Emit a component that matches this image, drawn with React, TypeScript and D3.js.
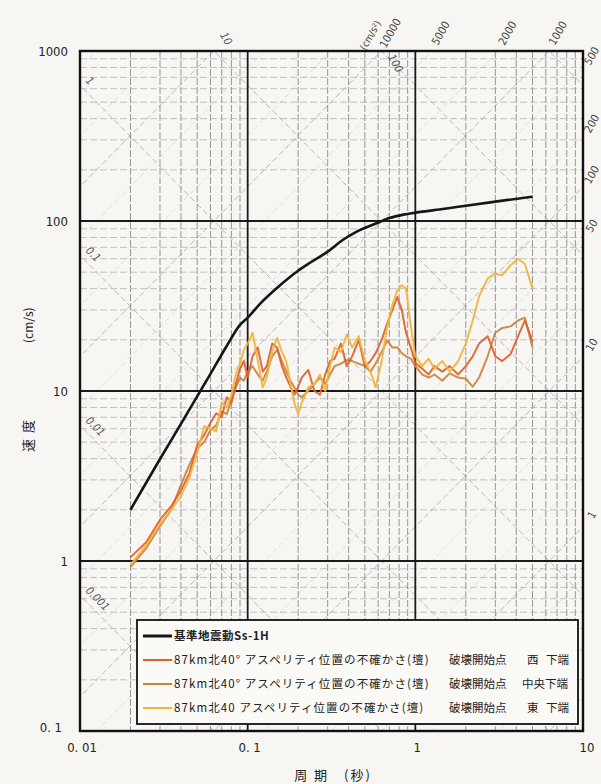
import React from "react";
import * as d3 from "d3";

// ---- data ----
const periods = [0.02, 0.025, 0.03, 0.035, 0.04, 0.045, 0.05, 0.055, 0.06, 0.065, 0.07, 0.075, 0.08, 0.085, 0.09, 0.095, 0.1, 0.107, 0.115, 0.123, 0.13, 0.14, 0.15, 0.16, 0.17, 0.18, 0.19, 0.2, 0.21, 0.23, 0.25, 0.27, 0.29, 0.31, 0.33, 0.36, 0.39, 0.42, 0.46, 0.5, 0.54, 0.58, 0.63, 0.68, 0.73, 0.78, 0.83, 0.88, 0.94, 1.0, 1.1, 1.2, 1.3, 1.45, 1.6, 1.8, 2.0, 2.2, 2.4, 2.7, 3.0, 3.3, 3.7, 4.1, 4.5, 5.0];

const westValues = [1.05, 1.3, 1.75, 2.1, 2.6, 3.3, 4.8, 5.5, 6.5, 7.4, 7.0, 9.2, 8.5, 11, 13.5, 15, 12, 16, 18, 13, 14, 19, 18, 14, 12, 10.6, 9.5, 10.6, 12, 13.3, 10, 9.5, 12.5, 15, 15.5, 19, 14, 16, 20, 13.9, 15, 16.7, 20, 25, 30, 35.7, 30, 22, 18, 14.6, 13.5, 12.5, 14, 13, 14, 12.5, 14, 16, 19, 21, 16, 15, 16.5, 21, 26, 19.6];

const centerValues = [0.92, 1.2, 1.6, 2.0, 2.8, 3.7, 4.6, 5.0, 5.9, 6.3, 7.6, 7.3, 8.8, 10.5, 12, 11.5, 13, 14, 12.5, 11.5, 13, 16, 17.5, 15, 13, 11.5, 10.5, 9.5, 9.2, 10, 11, 12, 11, 12.5, 14, 14.5, 15.2, 15, 14.5, 14, 13, 14.5, 17, 19.9, 18, 18.1, 16.7, 16, 15.5, 14, 12.5, 12, 12.5, 11.5, 12.7, 12, 11.8, 10.6, 12, 16, 22, 23.5, 24, 26, 27, 18];

const eastValues = [0.95, 1.25, 1.65, 2.0, 2.4, 3.1, 4.3, 6.2, 6.0, 5.8, 8.6, 8.0, 9.5, 12.5, 14.5, 17.5, 19, 22, 15, 10.5, 12, 17, 20.5, 17, 15, 11, 8.5, 7.3, 8.5, 10.5, 11, 12.5, 10, 14, 18, 17, 21.5, 18, 21, 15, 13, 10.5, 15, 24, 32, 39, 42, 40, 24, 16, 14, 15.5, 13.5, 15, 13, 15, 19, 26, 36, 46, 49, 48, 55, 60, 56, 40];

const ssPeriods = [0.02, 0.03, 0.04, 0.06, 0.075, 0.09, 0.1, 0.12, 0.15, 0.2, 0.234, 0.3, 0.367, 0.45, 0.586, 0.7, 0.85, 1.0, 1.5, 2.0, 3.0, 5.0];
const ssValues = [2.0, 3.98, 6.4, 12.6, 18.4, 24.5, 27, 33, 40.5, 51, 56.6, 66, 77, 87, 97, 104, 109, 112, 118, 123, 130, 139];

const xTicks = [0.01, 0.1, 1, 10];
const xTickLabels = ["0. 01", "0. 1", "1", "10"];
const yTicks = [0.1, 1, 10, 100, 1000];
const yTickLabels = ["0. 1", "1", "10", "100", "1000"];

const dispLabelsLeft = [1, 0.1, 0.01, 0.001];
const dispLabelsLeftText = ["1", "0.1", "0.01", "0.001"];
const dispLabelsTop = [10, 100];
const accLabelsTop = [10000, 5000, 2000, 1000];
const accLabelsRight = [500, 200, 100, 50, 10, 1];

const legendNames = [
  "基準地震動Ss-1H",
  "87km北40°  アスペリティ位置の不確かさ(壇)",
  "87km北40°  アスペリティ位置の不確かさ(壇)",
  "87km北40  アスペリティ位置の不確かさ(壇)",
];
const legendSuffix1 = ["", "破壊開始点", "破壊開始点", "破壊開始点"];
const legendSuffix2 = ["", "西", "中央下端", "東"];
const legendSuffix3 = ["", "下端", "", "下端"];
const colors = ["#161616", "#de5f2c", "#c9843f", "#f1b43a"];

export default function App() {
  const W = 601, H = 784;
  const L = 80, R = 583, T = 51, B = 731;
  const x = d3.scaleLog().domain([0.01, 10]).range([L, R]);
  const y = d3.scaleLog().domain([0.1, 1000]).range([B, T]);
  const TWO_PI = 2 * Math.PI;

  const minorX: number[] = [];
  [0.01, 0.1, 1].forEach((d) => { for (let k = 2; k <= 9; k++) minorX.push(d * k); });
  const minorY: number[] = [];
  [0.1, 1, 10, 100].forEach((d) => { for (let k = 2; k <= 9; k++) minorY.push(d * k); });

  const decades: number[] = [];
  for (let e = -4; e <= 5; e++) decades.push(Math.pow(10, e));
  const accMults: number[] = [];
  for (let e = -1; e <= 5; e++) [1, 2, 5].forEach((m) => accMults.push(m * Math.pow(10, e)));

  const line = d3.line<[number, number]>().x((d) => x(d[0])).y((d) => y(d[1]));
  const lineSmooth = d3.line<[number, number]>().x((d) => x(d[0])).y((d) => y(d[1])).curve(d3.curveMonotoneX);

  const mk = (vals: number[]) => periods.map((p, i) => [p, vals[i]] as [number, number]);
  const sers = [mk(centerValues), mk(westValues), mk(eastValues)];
  const serColors = [colors[2], colors[1], colors[3]];

  const font = "'DejaVu Sans Condensed', 'Liberation Sans', sans-serif";
  const jp = "'Noto Sans CJK JP', sans-serif";

  const isDecade = (v: number) => Math.abs(Math.log10(v) - Math.round(Math.log10(v))) < 1e-6;

  return (
    <svg width={W} height={H} style={{ position: "absolute", left: 0, top: 0, background: "#f7f6f2" }}>
      <defs>
        <clipPath id="plot"><rect x={L} y={T} width={R - L} height={B - T} /></clipPath>
      </defs>
      <rect x={0} y={0} width={W} height={H} fill="#f7f6f2" />
      <g clipPath="url(#plot)">
        {/* diagonal displacement lines V = 2πD/T */}
        {decades.map((D, i) => (
          <line key={"d" + i} x1={x(0.001)} y1={y((TWO_PI * D) / 0.001)} x2={x(100)} y2={y((TWO_PI * D) / 100)}
            stroke="#a8a8a8" strokeWidth={0.8} strokeDasharray="6 3" />
        ))}
        {/* diagonal acceleration lines V = A T / 2π */}
        {accMults.map((A, i) => (
          <line key={"a" + i} x1={x(0.001)} y1={y((A * 0.001) / TWO_PI)} x2={x(100)} y2={y((A * 100) / TWO_PI)}
            stroke={isDecade(A) ? "#a8a8a8" : "#cfcfcf"} strokeWidth={isDecade(A) ? 0.8 : 0.6} strokeDasharray="6 3" />
        ))}
        {minorX.map((v, i) => (
          <line key={"mx" + i} x1={x(v)} x2={x(v)} y1={T} y2={B} stroke="#7d7d7d" strokeWidth={0.8} strokeDasharray="7 2" />
        ))}
        {minorY.map((v, i) => (
          <line key={"my" + i} x1={L} x2={R} y1={y(v)} y2={y(v)} stroke="#a9a9a9" strokeWidth={0.7} strokeDasharray="7 3" />
        ))}
        {xTicks.map((v, i) => (
          <line key={"MX" + i} x1={x(v)} x2={x(v)} y1={T} y2={B} stroke="#1a1a1a" strokeWidth={1.8} />
        ))}
        {yTicks.map((v, i) => (
          <line key={"MY" + i} x1={L} x2={R} y1={y(v)} y2={y(v)} stroke="#1a1a1a" strokeWidth={1.8} />
        ))}
        {/* series */}
        {sers.map((s, i) => (
          <path key={"s" + i} d={line(s) || ""} fill="none" stroke={serColors[i]} strokeWidth={2} strokeLinejoin="round" opacity={0.92} />
        ))}
        <path d={lineSmooth(ssPeriods.map((p, i) => [p, ssValues[i]] as [number, number])) || ""} fill="none" stroke={colors[0]} strokeWidth={2.6} />
      </g>
      <rect x={L} y={T} width={R - L} height={B - T} fill="none" stroke="#111" strokeWidth={2.4} />

      {/* displacement labels */}
      {dispLabelsLeft.map((D, i) => {
        const yy = y((TWO_PI * D) / 0.01);
        return (
          <text key={"dl" + i} transform={`translate(${L + 5},${yy - 4}) rotate(45)`} fontSize={11} fontFamily={font} fill="#555" fontStyle="italic">
            {dispLabelsLeftText[i]}
          </text>
        );
      })}
      {dispLabelsTop.map((D, i) => {
        const xx = x((TWO_PI * D) / 1000);
        return (
          <text key={"dt" + i} transform={`translate(${xx + 6},${T + (i === 0 ? -16 : 6)}) rotate(60)`} fontSize={11} fontFamily={font} fill="#555" fontStyle="italic">
            {String(D)}
          </text>
        );
      })}
      {/* acceleration labels */}
      <text transform={`translate(${x((TWO_PI * 1000) / 10000) - 8},${T - 14}) rotate(-60)`} fontSize={10} fontFamily={font} fill="#444" textAnchor="middle">
        (cm/s²)
      </text>
      {accLabelsTop.map((A, i) => {
        const xx = x((TWO_PI * 1000) / A);
        return (
          <text key={"at" + i} transform={`translate(${xx + 12},${T - 16}) rotate(-60)`} fontSize={11} fontFamily={font} fill="#444" textAnchor="middle">
            {String(A)}
          </text>
        );
      })}
      {accLabelsRight.map((A, i) => {
        const yy = y((A * 10) / TWO_PI);
        return (
          <text key={"ar" + i} transform={`translate(${R + 12},${yy - 10}) rotate(-60)`} fontSize={11} fontFamily={font} fill="#444" textAnchor="middle">
            {String(A)}
          </text>
        );
      })}

      {/* tick labels */}
      {yTicks.map((v, i) => (
        <text key={"yt" + i} x={i === 0 ? 62 : 68} y={y(v) + (i === 0 ? 1 : 5)} fontSize={13} fontFamily={font} textAnchor="end" fill="#222">
          {yTickLabels[i]}
        </text>
      ))}
      {xTicks.map((v, i) => (
        <text key={"xt" + i} x={x(v) + (i === 3 ? 4 : 2)} y={752} fontSize={13} fontFamily={font} textAnchor="middle" fill="#222">
          {xTickLabels[i]}
        </text>
      ))}
      <text x={333} y={780} fontSize={13} fontFamily={jp} textAnchor="middle" fill="#222" letterSpacing={2}>
        周 期　(秒)
      </text>
      <text transform="translate(33,452) rotate(-90)" fontSize={13} fontFamily={jp} textAnchor="start" fill="#222" letterSpacing={6}>
        速度
      </text>
      <text transform="translate(33,343) rotate(-90)" fontSize={12} fontFamily={jp} textAnchor="start" fill="#222">
        (cm/s)
      </text>

      {/* legend */}
      <rect x={137} y={620} width={441} height={104} fill="#fbfaf7" stroke="#111" strokeWidth={1.8} />
      {legendNames.map((name, i) => {
        const yy = 636 + i * 24;
        return (
          <g key={"lg" + i}>
            <line x1={143} x2={172} y1={yy} y2={yy} stroke={colors[i]} strokeWidth={i === 0 ? 3 : 2} />
            <text x={174} y={yy + 4} fontSize={11.5} fontFamily={jp} fill="#222" fontWeight={i === 0 ? "bold" : "normal"} letterSpacing={i === 0 ? 0.5 : 1.1}>{name}</text>
            {legendSuffix1[i] && <text x={449} y={yy + 4} fontSize={11.5} fontFamily={jp} fill="#222">{legendSuffix1[i]}</text>}
            {legendSuffix2[i] && <text x={i === 2 ? 522 : 527} y={yy + 4} fontSize={11.5} fontFamily={jp} fill="#222">{legendSuffix2[i]}</text>}
            {legendSuffix3[i] && <text x={546} y={yy + 4} fontSize={11.5} fontFamily={jp} fill="#222">{legendSuffix3[i]}</text>}
          </g>
        );
      })}
    </svg>
  );
}
